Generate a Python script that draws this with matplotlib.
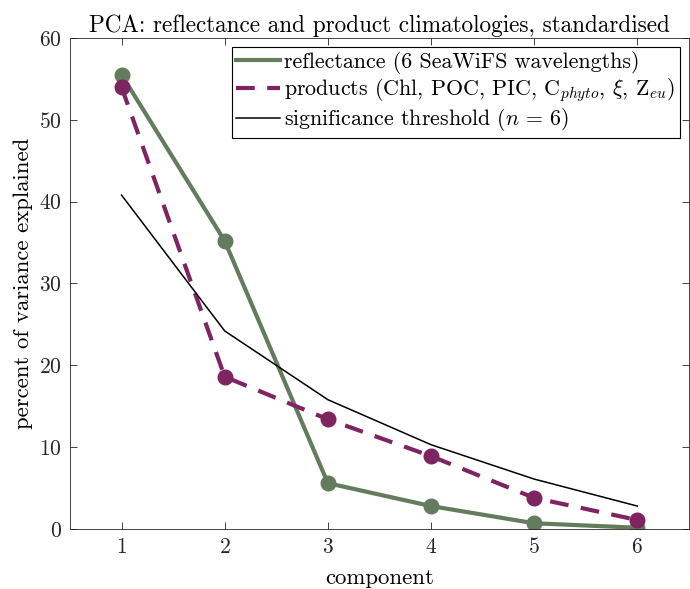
import matplotlib
matplotlib.use("Agg")
import matplotlib.pyplot as plt
import numpy as np

plt.rcParams["font.family"] = ["cmr10", "DejaVu Serif"]
plt.rcParams["mathtext.fontset"] = "cm"
plt.rcParams["axes.formatter.use_mathtext"] = True

components = [1, 2, 3, 4, 5, 6]
reflectance = [55.5, 35.2, 5.6, 2.8, 0.7, 0.15]
products = [54.0, 18.6, 13.4, 8.9, 3.8, 1.1]
threshold = [40.8, 24.2, 15.8, 10.3, 6.1, 2.8]

green = "#647c5d"
purple = "#7e2461"

fig = plt.figure(figsize=(6.9, 5.89), dpi=100)
ax = fig.add_axes([0.1014, 0.1019, 0.897, 0.8336])

ax.plot(components, reflectance, "-o", color=green, lw=3, ms=10.5,
        label="reflectance (6 SeaWiFS wavelengths)")
ax.plot(components, products, "--o", color=purple, lw=3, ms=10.5,
        dashes=(4.5, 3), label=r"products (Chl, POC, PIC, C$_{phyto}$, $\xi$, Z$_{eu}$)")
ax.plot(components, threshold, "-", color="black", lw=1.1,
        label=r"significance threshold ($n\,=\,6$)")

ax.set_xlim(0.5, 6.5)
ax.set_ylim(0, 60)
ax.set_xticks(components)
ax.set_yticks(range(0, 61, 10))
ax.tick_params(direction="in", top=True, right=True, labelsize=15.5, colors="#262626",
               length=5, width=0.6, labelcolor="#262626", pad=6)
for s in ax.spines.values():
    s.set_color("#262626")
    s.set_linewidth(0.6)

ax.set_xlabel("component", fontsize=16.4, labelpad=8)
ax.set_ylabel("percent of variance explained", fontsize=16.4, labelpad=4)
ax.set_title("PCA: reflectance and product climatologies, standardised", fontsize=16.7, pad=4)

leg = ax.legend(loc="upper right", fontsize=15.8, handlelength=2.0, handletextpad=0.2,
                borderpad=0.2, labelspacing=0.1, fancybox=False, framealpha=1,
                borderaxespad=0.4)
leg.get_frame().set_edgecolor("black")
leg.get_frame().set_linewidth(0.8)
for h in leg.legend_handles:
    h.set_marker("")

fig.savefig("out.png", dpi=100)
